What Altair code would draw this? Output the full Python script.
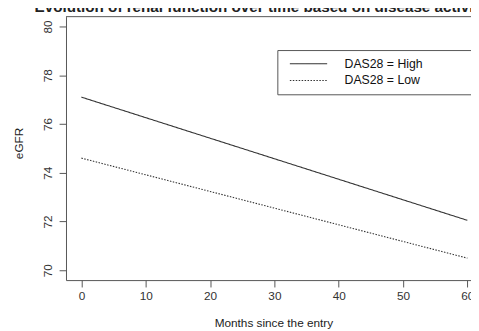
import altair as alt
import pandas as pd

# ---- data ----
months = [0, 60]
egfr_high = [77.1, 72.05]
egfr_low = [74.6, 70.5]
series = ["DAS28 = High", "DAS28 = Low"]
x_ticks = [0, 10, 20, 30, 40, 50, 60]
y_ticks = [70, 72, 74, 76, 78, 80]
title_text = "Evolution of renal function over time based on disease activity"

rows = []
for m, v in zip(months, egfr_high):
    rows.append({"month": m, "egfr": v, "group": series[0]})
for m, v in zip(months, egfr_low):
    rows.append({"month": m, "egfr": v, "group": series[1]})
df = pd.DataFrame(rows)

FONT = "Liberation Sans"
W, H = 412, 268
PAD_CHARS = "\u2800" * 7  # blank, non-trimmed filler widening the legend frame

lines = alt.Chart(df).mark_line(color="#333333", strokeWidth=1.1).encode(
    x=alt.X(
        "month:Q",
        scale=alt.Scale(domain=[-2.4, 62.4], range=[0, 424], nice=False, zero=False),
        axis=alt.Axis(
            values=x_ticks, title="Months since the entry",
            labelPadding=4, titleX=211, titleY=47,
            titleBaseline="alphabetic", titleAlign="center",
        ),
    ),
    y=alt.Y(
        "egfr:Q",
        scale=alt.Scale(domain=[69.6, 80.4], nice=False, zero=False),
        axis=alt.Axis(
            values=y_ticks, title="eGFR",
            labelAngle=270, labelAlign="center", labelBaseline="alphabetic",
            labelPadding=8, titleAngle=270, titleX=-44, titleY=128.5,
            titleAlign="center", titleBaseline="alphabetic",
        ),
    ),
    strokeDash=alt.StrokeDash(
        "group:N",
        scale=alt.Scale(domain=series, range=[[1, 0], [1.5, 1.5]]),
        legend=alt.Legend(
            title=None, orient="none", legendX=215, legendY=34,
            symbolType="M-3,0H3", symbolSize=160, symbolStrokeWidth=1.1,
            symbolStrokeColor="#333333", symbolOffset=17.7, labelOffset=29.65,
            rowPadding=3,
            labelExpr="datum.label + '" + PAD_CHARS + "'",
        ),
    ),
)

box_top = alt.Chart(pd.DataFrame({"k": [0]})).mark_rule(color="#555555", strokeWidth=1).encode(
    y=alt.value(0), x=alt.value(0), x2=alt.value(W)
)

title_layer = alt.Chart(pd.DataFrame({"t": [title_text]})).mark_text(
    align="left", baseline="alphabetic", fontSize=15.5, fontWeight="bold",
    font=FONT, color="#222222",
).encode(x=alt.value(-32), y=alt.value(-5), text="t:N")

chart = alt.layer(box_top, lines, title_layer).properties(
    width=W, height=H,
    padding={"left": 59, "top": 6, "right": 0, "bottom": 49},
    autosize=alt.AutoSizeParams(type="none"),
).configure_view(stroke=None).configure_axis(
    grid=False, domainColor="#555555", tickColor="#555555", tickSize=7,
    labelFont=FONT, labelFontSize=12, labelColor="#333333",
    titleFont=FONT, titleFontSize=12, titleColor="#222222", titleFontWeight="normal",
).configure_legend(
    strokeColor="#555555", fillColor="white", padding=7,
    labelFont=FONT, labelFontSize=12.5, labelColor="#111111",
)

chart.save("out.html", embed_options={"renderer": "svg", "actions": False})
